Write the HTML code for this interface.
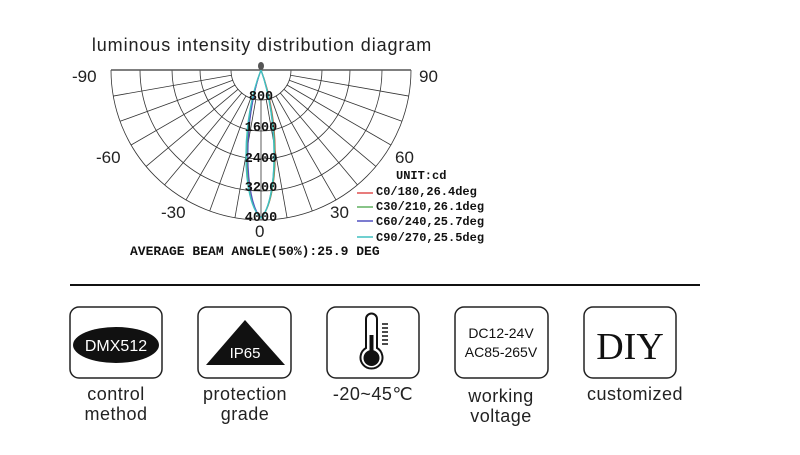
<!DOCTYPE html>
<html><head><meta charset="utf-8"><style>
body{margin:0;background:#fff;}
svg{display:block;font-family:"Liberation Sans",sans-serif;}
</style></head><body>
<svg id="s" width="800" height="455" viewBox="0 0 800 455" xmlns="http://www.w3.org/2000/svg">
<text x="262" y="51" font-size="18" letter-spacing="0.9" text-anchor="middle" fill="#222">luminous intensity distribution diagram</text>
<g id="grid" stroke="#333" stroke-width="0.8" fill="none"></g>
<line x1="111" y1="70" x2="411" y2="70" stroke="#555" stroke-width="1.5"/>
<g fill="none" stroke-width="1.1">
<path d="M261,70 C243,120 243,200 261,218 C279,200 281,120 261,70" stroke="#e05050"/>
<path d="M261,70 C242,120 242,200 261,218 C279,200 280,120 261,70" stroke="#60b060"/>
<path d="M261,70 C243,120 244,200 261,218 C278,200 279,120 261,70" stroke="#5050c0"/>
<path d="M261,70 C241,120 241,200 261,218 C278,200 279,120 261,70" stroke="#40c0c0" stroke-width="1.4"/>
</g>
<ellipse cx="261" cy="66" rx="3" ry="4" fill="#555"/>
<g font-family="Liberation Mono,monospace" font-weight="bold" font-size="13.5" text-anchor="middle" fill="#111">
<text x="261" y="100">800</text><text x="261" y="131">1600</text><text x="261" y="162">2400</text><text x="261" y="191">3200</text><text x="261" y="221">4000</text>
</g>
<g font-size="17" fill="#222">
<text x="72" y="82">-90</text><text x="419" y="82">90</text>
<text x="96" y="163">-60</text><text x="395" y="163">60</text>
<text x="161" y="218">-30</text><text x="330" y="218">30</text>
<text x="255" y="237">0</text>
</g>
<g font-family="Liberation Mono,monospace" font-weight="bold" font-size="12" fill="#111">
<text x="396" y="179">UNIT:cd</text>
<text x="376" y="195">C0/180,26.4deg</text>
<text x="376" y="210">C30/210,26.1deg</text>
<text x="376" y="225">C60/240,25.7deg</text>
<text x="376" y="241">C90/270,25.5deg</text>
<text x="130" y="255" font-size="13">AVERAGE BEAM ANGLE(50%):25.9 DEG</text>
</g>
<g stroke-width="1.5"><line x1="357" y1="193" x2="373" y2="193" stroke="#e05050"/><line x1="357" y1="207" x2="373" y2="207" stroke="#60b060"/><line x1="357" y1="221" x2="373" y2="221" stroke="#5050c0"/><line x1="357" y1="237" x2="373" y2="237" stroke="#40c0c0"/></g>
<line x1="70" y1="285" x2="700" y2="285" stroke="#111" stroke-width="2"/>
<g fill="none" stroke="#222" stroke-width="1.5">
<rect x="70" y="307" width="92" height="71" rx="9"/>
<rect x="198" y="307" width="93" height="71" rx="9"/>
<rect x="327" y="307" width="92" height="71" rx="9"/>
<rect x="455" y="307" width="93" height="71" rx="9"/>
<rect x="584" y="307" width="92" height="71" rx="9"/>
</g>
<ellipse cx="116" cy="345" rx="43" ry="18" fill="#111"/>
<text x="116" y="351" font-size="16" fill="#fff" text-anchor="middle">DMX512</text>
<polygon points="245,320 206,365 285,365" fill="#111"/>
<text x="245" y="358" font-size="15" fill="#fff" text-anchor="middle">IP65</text>
<g stroke="#111" fill="none" stroke-width="2">
<path d="M366,348 V319 a5.5,5.5 0 0 1 11,0 V348 a11,11 0 1 1 -11,0 Z" fill="#fff"/>
</g>
<rect x="369.5" y="335" width="4" height="20" fill="#111"/>
<circle cx="371.5" cy="358" r="8" fill="#111"/>
<g stroke="#111" stroke-width="1.5"><line x1="382" y1="324" x2="388" y2="324"/><line x1="382" y1="328" x2="388" y2="328"/><line x1="382" y1="332" x2="388" y2="332"/><line x1="382" y1="336" x2="388" y2="336"/><line x1="382" y1="340" x2="388" y2="340"/><line x1="382" y1="344" x2="388" y2="344"/></g>
<text x="501" y="338" font-size="14" text-anchor="middle" fill="#111">DC12-24V</text>
<text x="501" y="357" font-size="14" text-anchor="middle" fill="#111">AC85-265V</text>
<text x="630" y="359" font-family="Liberation Serif,serif" font-size="38" text-anchor="middle" fill="#111">DIY</text>
<g font-size="18" letter-spacing="0.5" text-anchor="middle" fill="#222">
<text x="116" y="400">control</text><text x="116" y="420">method</text>
<text x="245" y="400">protection</text><text x="245" y="420">grade</text>
<text x="373" y="400">-20~45℃</text>
<text x="501" y="402">working</text><text x="501" y="422">voltage</text>
<text x="635" y="400">customized</text>
</g>
</svg>
<script>
var g=document.getElementById('grid'),cx=261,cy=70,h='';
[30,61,89,121,150].forEach(function(r){h+='<path d="M'+(cx-r)+','+cy+' A'+r+','+r+' 0 0 0 '+(cx+r)+','+cy+'"/>';});
for(var a=-90;a<=90;a+=10){var t=a*Math.PI/180,s=Math.sin(t),c=Math.cos(t);h+='<line x1="'+(cx+30*s)+'" y1="'+(cy+30*c)+'" x2="'+(cx+150*s)+'" y2="'+(cy+150*c)+'"/>';}
g.innerHTML=h;
</script>
</body></html>
